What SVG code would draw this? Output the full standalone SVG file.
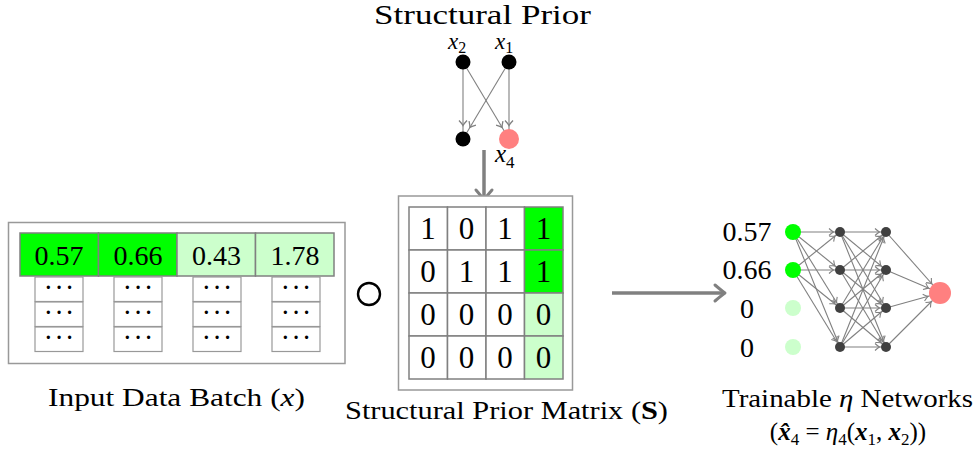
<svg xmlns="http://www.w3.org/2000/svg" width="980" height="451" viewBox="0 0 980 451">
<style>
.t{font-family:"Liberation Serif","Times New Roman",serif;fill:#000}
.i{font-style:italic}
.cell{stroke:#808080;stroke-width:1.5}
.sc{fill:#fff;stroke:#999;stroke-width:1.2}
.box{fill:#fff;stroke:#999;stroke-width:1.5}
.e{stroke:#808080;stroke-width:1.1;fill:none}
.big{stroke:#808080;stroke-width:3.5;fill:none}
.g{fill:#00ff00}
.lg{fill:#ccffcc}
.w{fill:#fff}
.hid{fill:#404040}
.d{font-size:20px;letter-spacing:4px;text-anchor:middle;font-weight:bold}
.n28{font-size:28px;text-anchor:middle}
.n31{font-size:31px;text-anchor:middle}
</style>
<defs>
<marker id="ah" markerUnits="userSpaceOnUse" markerWidth="10" markerHeight="10" refX="6.5" refY="0" orient="auto" overflow="visible"><path d="M-4.5,-3.5 Q-1.5,-0.8 0,0 Q-1.5,0.8 -4.5,3.5" fill="none" stroke="#808080" stroke-width="1.1"/></marker>
<marker id="ao" markerUnits="userSpaceOnUse" markerWidth="10" markerHeight="10" refX="12.5" refY="0" orient="auto" overflow="visible"><path d="M-4.5,-3.5 Q-1.5,-0.8 0,0 Q-1.5,0.8 -4.5,3.5" fill="none" stroke="#808080" stroke-width="1.1"/></marker>
<marker id="at" markerUnits="userSpaceOnUse" markerWidth="10" markerHeight="10" refX="13.5" refY="0" orient="auto" overflow="visible"><path d="M-5,-4 Q-1.7,-0.9 0,0 Q-1.7,0.9 -5,4" fill="none" stroke="#808080" stroke-width="1.3"/></marker>
<marker id="ab" markerUnits="userSpaceOnUse" markerWidth="20" markerHeight="20" refX="-2" refY="0" orient="auto" overflow="visible"><path d="M-10,-8 Q-3,-2 0,0 Q-3,2 -10,8" fill="none" stroke="#808080" stroke-width="3" stroke-linecap="round" stroke-linejoin="round"/></marker>
</defs>
<rect width="980" height="451" fill="#fff"/>

<!-- Structural prior graph -->
<text class="t" x="374" y="24" font-size="27" textLength="217" lengthAdjust="spacingAndGlyphs">Structural Prior</text>
<g id="connectors">
  <line class="e" x1="463" y1="62" x2="463" y2="139" marker-end="url(#at)"/>
  <line class="e" x1="463" y1="62" x2="509" y2="139" marker-end="url(#at)"/>
  <line class="e" x1="509" y1="62" x2="509" y2="139" marker-end="url(#at)"/>
  <line class="e" x1="509" y1="62" x2="463" y2="139" marker-end="url(#at)"/>
  <line class="big" x1="484" y1="150" x2="484" y2="198" marker-end="url(#ab)"/>
  <line class="big" x1="612" y1="293" x2="723" y2="293" marker-end="url(#ab)"/>
  <!-- input to hidden 1 -->
  <line class="e" x1="793" y1="232" x2="840" y2="232" marker-end="url(#ah)"/>
  <line class="e" x1="793" y1="232" x2="840" y2="270" marker-end="url(#ah)"/>
  <line class="e" x1="793" y1="232" x2="840" y2="308" marker-end="url(#ah)"/>
  <line class="e" x1="793" y1="232" x2="840" y2="347" marker-end="url(#ah)"/>
  <line class="e" x1="793" y1="270" x2="840" y2="232" marker-end="url(#ah)"/>
  <line class="e" x1="793" y1="270" x2="840" y2="270" marker-end="url(#ah)"/>
  <line class="e" x1="793" y1="270" x2="840" y2="308" marker-end="url(#ah)"/>
  <line class="e" x1="793" y1="270" x2="840" y2="347" marker-end="url(#ah)"/>
  <!-- hidden 1 to hidden 2 -->
  <line class="e" x1="840" y1="232" x2="886" y2="232" marker-end="url(#ah)"/>
  <line class="e" x1="840" y1="232" x2="886" y2="270" marker-end="url(#ah)"/>
  <line class="e" x1="840" y1="232" x2="886" y2="308" marker-end="url(#ah)"/>
  <line class="e" x1="840" y1="232" x2="886" y2="347" marker-end="url(#ah)"/>
  <line class="e" x1="840" y1="270" x2="886" y2="232" marker-end="url(#ah)"/>
  <line class="e" x1="840" y1="270" x2="886" y2="270" marker-end="url(#ah)"/>
  <line class="e" x1="840" y1="270" x2="886" y2="308" marker-end="url(#ah)"/>
  <line class="e" x1="840" y1="270" x2="886" y2="347" marker-end="url(#ah)"/>
  <line class="e" x1="840" y1="308" x2="886" y2="232" marker-end="url(#ah)"/>
  <line class="e" x1="840" y1="308" x2="886" y2="270" marker-end="url(#ah)"/>
  <line class="e" x1="840" y1="308" x2="886" y2="308" marker-end="url(#ah)"/>
  <line class="e" x1="840" y1="308" x2="886" y2="347" marker-end="url(#ah)"/>
  <line class="e" x1="840" y1="347" x2="886" y2="232" marker-end="url(#ah)"/>
  <line class="e" x1="840" y1="347" x2="886" y2="270" marker-end="url(#ah)"/>
  <line class="e" x1="840" y1="347" x2="886" y2="308" marker-end="url(#ah)"/>
  <line class="e" x1="840" y1="347" x2="886" y2="347" marker-end="url(#ah)"/>
  <!-- hidden 2 to output -->
  <line class="e" x1="886" y1="232" x2="940" y2="293" marker-end="url(#ao)"/>
  <line class="e" x1="886" y1="270" x2="940" y2="293" marker-end="url(#ao)"/>
  <line class="e" x1="886" y1="308" x2="940" y2="293" marker-end="url(#ao)"/>
  <line class="e" x1="886" y1="347" x2="940" y2="293" marker-end="url(#ao)"/>
</g>

<g id="node-x2">
  <circle cx="463" cy="62" r="7.5" fill="#000"/>
  <text class="t i" x="448" y="49" font-size="23">x<tspan font-style="normal" font-size="16" dy="4">2</tspan></text>
</g>
<g id="node-x1">
  <circle cx="509" cy="62" r="7.5" fill="#000"/>
  <text class="t i" x="495" y="49" font-size="23">x<tspan font-style="normal" font-size="16" dy="4">1</tspan></text>
</g>
<g id="node-x3">
  <circle cx="463" cy="139" r="7.5" fill="#000"/>
</g>
<g id="node-x4">
  <circle cx="509" cy="139" r="10" fill="#ff8080"/>
  <text class="t i" x="495" y="162" font-size="25">x<tspan font-style="normal" font-size="17" dy="6">4</tspan></text>
</g>

<!-- Input data batch -->
<g id="input-batch">
  <rect class="box" x="8.5" y="222.5" width="336.5" height="141"/>
  <rect class="cell g" x="20" y="233" width="78.5" height="43"/>
  <rect class="cell g" x="98.5" y="233" width="78.5" height="43"/>
  <rect class="cell lg" x="177" y="233" width="78.5" height="43"/>
  <rect class="cell lg" x="255.5" y="233" width="78.5" height="43"/>
  <text class="t n28" x="59" y="265">0.57</text>
  <text class="t n28" x="138" y="265">0.66</text>
  <text class="t n28" x="216.5" y="265">0.43</text>
  <text class="t n28" x="295" y="265">1.78</text>
  <rect class="sc" x="35" y="277" width="48" height="24.5"/>
  <rect class="sc" x="35" y="302" width="48" height="24.5"/>
  <rect class="sc" x="35" y="327" width="48" height="24.5"/>
  <rect class="sc" x="114" y="277" width="48" height="24.5"/>
  <rect class="sc" x="114" y="302" width="48" height="24.5"/>
  <rect class="sc" x="114" y="327" width="48" height="24.5"/>
  <rect class="sc" x="193" y="277" width="48" height="24.5"/>
  <rect class="sc" x="193" y="302" width="48" height="24.5"/>
  <rect class="sc" x="193" y="327" width="48" height="24.5"/>
  <rect class="sc" x="272" y="277" width="48" height="24.5"/>
  <rect class="sc" x="272" y="302" width="48" height="24.5"/>
  <rect class="sc" x="272" y="327" width="48" height="24.5"/>
  <text class="t d" x="61" y="294">···</text>
  <text class="t d" x="61" y="319">···</text>
  <text class="t d" x="61" y="344">···</text>
  <text class="t d" x="140" y="294">···</text>
  <text class="t d" x="140" y="319">···</text>
  <text class="t d" x="140" y="344">···</text>
  <text class="t d" x="219" y="294">···</text>
  <text class="t d" x="219" y="319">···</text>
  <text class="t d" x="219" y="344">···</text>
  <text class="t d" x="298" y="294">···</text>
  <text class="t d" x="298" y="319">···</text>
  <text class="t d" x="298" y="344">···</text>
  <text class="t" x="48" y="406" font-size="25" textLength="257" lengthAdjust="spacingAndGlyphs">Input Data Batch (<tspan font-style="italic">x</tspan>)</text>
</g>

<g id="hadamard">
  <circle cx="369" cy="294" r="11" fill="none" stroke="#000" stroke-width="2.4"/>
</g>

<!-- Structural prior matrix -->
<g id="prior-matrix">
  <rect class="box" x="398.5" y="196" width="174" height="194"/>
  <rect class="cell w" x="409" y="207" width="38.5" height="43"/>
  <rect class="cell w" x="447.5" y="207" width="38.5" height="43"/>
  <rect class="cell w" x="486" y="207" width="38.5" height="43"/>
  <rect class="cell g" x="524.5" y="207" width="38.5" height="43"/>
  <rect class="cell w" x="409" y="250" width="38.5" height="43"/>
  <rect class="cell w" x="447.5" y="250" width="38.5" height="43"/>
  <rect class="cell w" x="486" y="250" width="38.5" height="43"/>
  <rect class="cell g" x="524.5" y="250" width="38.5" height="43"/>
  <rect class="cell w" x="409" y="293" width="38.5" height="43"/>
  <rect class="cell w" x="447.5" y="293" width="38.5" height="43"/>
  <rect class="cell w" x="486" y="293" width="38.5" height="43"/>
  <rect class="cell lg" x="524.5" y="293" width="38.5" height="43"/>
  <rect class="cell w" x="409" y="336" width="38.5" height="43"/>
  <rect class="cell w" x="447.5" y="336" width="38.5" height="43"/>
  <rect class="cell w" x="486" y="336" width="38.5" height="43"/>
  <rect class="cell lg" x="524.5" y="336" width="38.5" height="43"/>
  <text class="t n31" x="428" y="239">1</text>
  <text class="t n31" x="466.5" y="239">0</text>
  <text class="t n31" x="505" y="239">1</text>
  <text class="t n31" x="543.5" y="239">1</text>
  <text class="t n31" x="428" y="282">0</text>
  <text class="t n31" x="466.5" y="282">1</text>
  <text class="t n31" x="505" y="282">1</text>
  <text class="t n31" x="543.5" y="282">1</text>
  <text class="t n31" x="428" y="325">0</text>
  <text class="t n31" x="466.5" y="325">0</text>
  <text class="t n31" x="505" y="325">0</text>
  <text class="t n31" x="543.5" y="325">0</text>
  <text class="t n31" x="428" y="368">0</text>
  <text class="t n31" x="466.5" y="368">0</text>
  <text class="t n31" x="505" y="368">0</text>
  <text class="t n31" x="543.5" y="368">0</text>
  <text class="t" x="345" y="419" font-size="25" textLength="323" lengthAdjust="spacingAndGlyphs">Structural Prior Matrix (<tspan font-weight="bold">S</tspan>)</text>
</g>

<!-- Network -->
<g id="net-inputs">
  <text class="t n28" x="747" y="241">0.57</text>
  <text class="t n28" x="747" y="279">0.66</text>
  <text class="t n28" x="747" y="318">0</text>
  <text class="t n28" x="747" y="357">0</text>
  <circle cx="793" cy="232" r="8" class="g"/>
  <circle cx="793" cy="270" r="8" class="g"/>
  <circle cx="793" cy="308" r="8" class="lg"/>
  <circle cx="793" cy="347" r="8" class="lg"/>
</g>
<g id="net-hidden1">
  <circle cx="840" cy="232" r="5" class="hid"/>
  <circle cx="840" cy="270" r="5" class="hid"/>
  <circle cx="840" cy="308" r="5" class="hid"/>
  <circle cx="840" cy="347" r="5" class="hid"/>
</g>
<g id="net-hidden2">
  <circle cx="886" cy="232" r="5" class="hid"/>
  <circle cx="886" cy="270" r="5" class="hid"/>
  <circle cx="886" cy="308" r="5" class="hid"/>
  <circle cx="886" cy="347" r="5" class="hid"/>
</g>
<g id="net-output">
  <circle cx="940" cy="293" r="11" fill="#ff8080"/>
</g>
<g id="net-label">
  <text class="t" x="722" y="407" font-size="25" textLength="251" lengthAdjust="spacingAndGlyphs">Trainable <tspan font-style="italic">η</tspan> Networks</text>
  <text class="t" x="848" y="440" font-size="25" text-anchor="middle">(<tspan font-weight="bold" font-style="italic">x̂</tspan><tspan font-size="17" dy="5">4</tspan><tspan dy="-5"> = </tspan><tspan font-style="italic">η</tspan><tspan font-size="17" dy="5">4</tspan><tspan dy="-5">(</tspan><tspan font-weight="bold" font-style="italic">x</tspan><tspan font-size="17" dy="5">1</tspan><tspan dy="-5">, </tspan><tspan font-weight="bold" font-style="italic">x</tspan><tspan font-size="17" dy="5">2</tspan><tspan dy="-5">))</tspan></text>
</g>
</svg>
